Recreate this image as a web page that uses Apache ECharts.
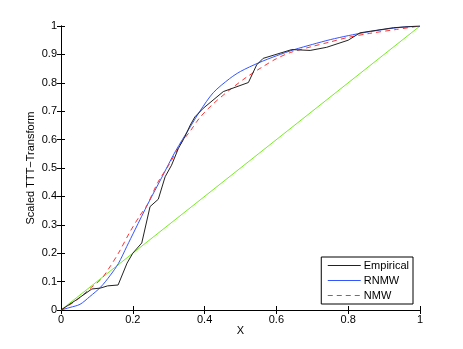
<!DOCTYPE html>
<html lang="en">
<head>
    <meta charset="UTF-8">
    <script src="https://cdn.jsdelivr.net/npm/echarts@6/dist/echarts.min.js"></script>
    <title>Scaled TTT-Transform</title>
    <style>
        html, body { margin: 0; padding: 0; background: #fff; }
        #main { width: 463px; height: 349px; }
    </style>
</head>
<body>
<div id="main"></div>
<script type="text/javascript">
    // tick labels
    var xTicks = [0, 0.2, 0.4, 0.6, 0.8, 1];
    var yTicks = [0, 0.1, 0.2, 0.3, 0.4, 0.5, 0.6, 0.7, 0.8, 0.9, 1];

    // empirical TTT curve
    var empX = [0, 0.042, 0.086, 0.109, 0.13, 0.159, 0.184, 0.2, 0.225, 0.248, 0.271, 0.29, 0.308, 0.327, 0.345, 0.36, 0.373, 0.396, 0.452, 0.522, 0.545, 0.563, 0.643, 0.694, 0.74, 0.8, 0.833, 0.926, 1];
    var empY = [0, 0.035, 0.074, 0.077, 0.085, 0.088, 0.165, 0.2, 0.236, 0.364, 0.39, 0.469, 0.51, 0.569, 0.61, 0.651, 0.68, 0.71, 0.769, 0.801, 0.863, 0.886, 0.917, 0.914, 0.925, 0.95, 0.976, 0.994, 1];

    // RNMW fitted
    var rnmwX = [0, 0.025, 0.053, 0.08, 0.11, 0.136, 0.16, 0.183, 0.206, 0.243, 0.28, 0.318, 0.36, 0.387, 0.424, 0.47, 0.5, 0.55, 0.6, 0.65, 0.7, 0.75, 0.8, 0.85, 0.9, 0.95, 1];
    var rnmwY = [0, 0.009, 0.02, 0.047, 0.08, 0.12, 0.164, 0.223, 0.282, 0.376, 0.465, 0.557, 0.645, 0.7, 0.765, 0.815, 0.84, 0.87, 0.895, 0.917, 0.935, 0.952, 0.966, 0.978, 0.988, 0.996, 1];

    // NMW fitted
    var nmwX = [0, 0.044, 0.085, 0.113, 0.13, 0.16, 0.192, 0.22, 0.24, 0.27, 0.3, 0.336, 0.36, 0.387, 0.424, 0.47, 0.517, 0.56, 0.6, 0.64, 0.7, 0.75, 0.8, 0.86, 0.93, 1];
    var nmwY = [0, 0.035, 0.08, 0.11, 0.14, 0.2, 0.275, 0.333, 0.37, 0.45, 0.51, 0.59, 0.63, 0.678, 0.726, 0.775, 0.82, 0.855, 0.885, 0.907, 0.928, 0.944, 0.96, 0.974, 0.987, 1];

    // reference diagonal
    var diagX = [0, 1];
    var diagY = [0, 1];

    function pairs(xs, ys) {
        var out = [];
        for (var i = 0; i < xs.length; i++) {
            out.push([xs[i], ys[i]]);
        }
        return out;
    }

    function fmt(v) {
        return String(Math.round(v * 10) / 10);
    }

    var font = 'Liberation Sans, Arial, sans-serif';
    var tickStyle = { show: true, inside: true, length: 4, lineStyle: { color: '#000' } };

    var myChart = echarts.init(document.getElementById('main'));
    var option = {
        backgroundColor: '#fff',
        animation: false,
        grid: { left: 61, right: 43, top: 26, bottom: 39 },
        legend: {
            orient: 'vertical',
            right: 50,
            bottom: 45,
            itemWidth: 33,
            itemHeight: 10,
            itemGap: 4,
            padding: [3, 4, 3, 6],
            backgroundColor: '#fff',
            borderColor: '#000',
            borderWidth: 1,
            borderRadius: 0,
            itemStyle: { opacity: 0 },
            lineStyle: { width: 1 },
            textStyle: { fontFamily: font, fontSize: 11, color: '#000', padding: [0, 0, 0, -2] },
            data: ['Empirical', 'RNMW', 'NMW']
        },
        xAxis: [{
            type: 'value',
            min: xTicks[0],
            max: xTicks[xTicks.length - 1],
            interval: 0.2,
            name: 'X',
            nameLocation: 'middle',
            nameMoveOverlap: false,
            nameGap: 15,
            nameTextStyle: { fontFamily: font, fontSize: 11, color: '#000' },
            axisLine: { lineStyle: { color: '#000' } },
            axisTick: tickStyle,
            axisLabel: { fontFamily: font, fontSize: 11, color: '#000', margin: 4, formatter: fmt },
            splitLine: { show: false }
        }, {
            type: 'value',
            position: 'top',
            min: 0,
            max: 1,
            interval: 0.2,
            axisLine: { lineStyle: { color: '#000' } },
            axisTick: tickStyle,
            axisLabel: { show: false },
            splitLine: { show: false }
        }],
        yAxis: [{
            type: 'value',
            min: yTicks[0],
            max: yTicks[yTicks.length - 1],
            interval: 0.1,
            name: 'Scaled TTT\u2212Transform',
            nameLocation: 'middle',
            nameMoveOverlap: false,
            nameGap: 25,
            nameTextStyle: { fontFamily: font, fontSize: 11, color: '#000' },
            axisLine: { show: true, lineStyle: { color: '#000' } },
            axisTick: tickStyle,
            axisLabel: { fontFamily: font, fontSize: 11, color: '#000', margin: 4, formatter: fmt },
            splitLine: { show: false }
        }, {
            type: 'value',
            position: 'right',
            min: 0,
            max: 1,
            interval: 0.1,
            axisLine: { show: true, lineStyle: { color: '#000' } },
            axisTick: tickStyle,
            axisLabel: { show: false },
            splitLine: { show: false }
        }],
        series: [{
            name: 'Diagonal',
            type: 'line',
            symbol: 'none',
            lineStyle: { color: '#77ee22', width: 1 },
            itemStyle: { color: '#77ee22' },
            data: pairs(diagX, diagY),
            z: 1
        }, {
            name: 'Empirical',
            type: 'line',
            symbol: 'none',
            lineStyle: { color: '#222', width: 1 },
            itemStyle: { color: '#222' },
            data: pairs(empX, empY),
            z: 4
        }, {
            name: 'RNMW',
            type: 'line',
            symbol: 'none',
            smooth: 0.3,
            lineStyle: { color: '#3355ff', width: 1 },
            itemStyle: { color: '#3355ff' },
            data: pairs(rnmwX, rnmwY),
            z: 2
        }, {
            name: 'NMW',
            type: 'line',
            symbol: 'none',
            smooth: 0.3,
            lineStyle: { color: '#ff3333', width: 1, type: [5, 4] },
            itemStyle: { color: '#ff3333' },
            data: pairs(nmwX, nmwY),
            z: 3
        }]
    };
    myChart.setOption(option);
</script>
</body>
</html>
